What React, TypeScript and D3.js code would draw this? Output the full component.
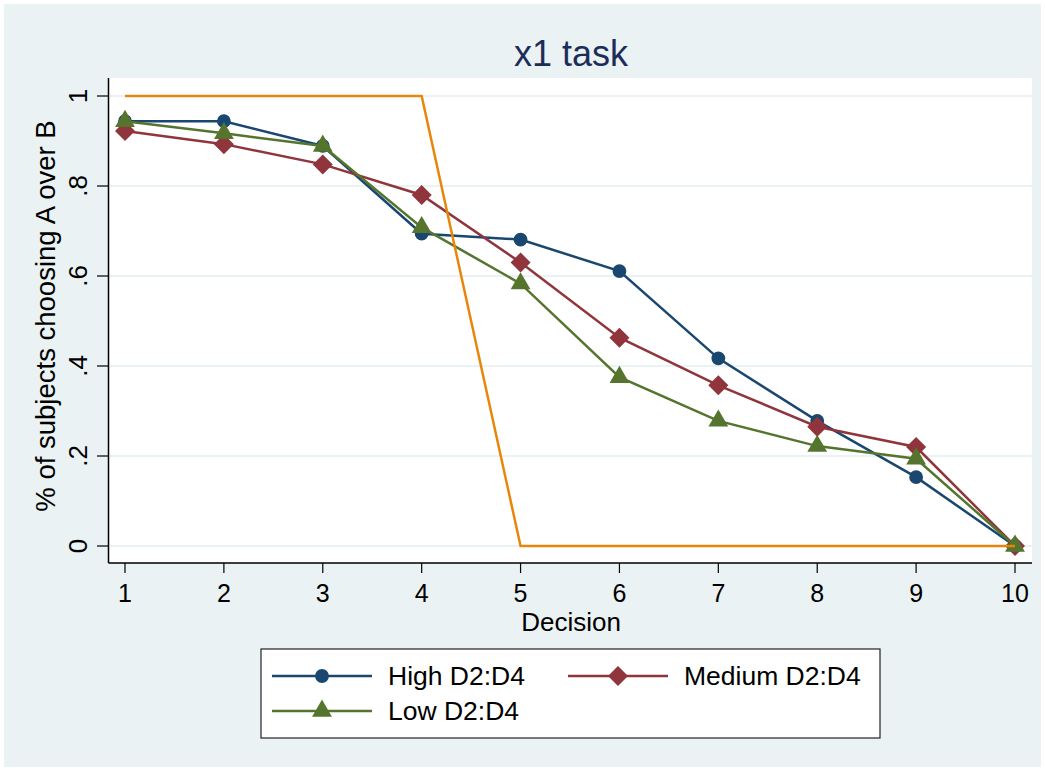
import React, { useEffect, useRef } from 'react';
import * as d3 from 'd3';

const decisions = [1, 2, 3, 4, 5, 6, 7, 8, 9, 10];
const highD2D4 = [0.944, 0.944, 0.889, 0.694, 0.681, 0.611, 0.417, 0.278, 0.153, 0];
const mediumD2D4 = [0.922, 0.893, 0.848, 0.78, 0.63, 0.463, 0.357, 0.265, 0.22, 0];
const lowD2D4 = [0.944, 0.917, 0.889, 0.708, 0.583, 0.375, 0.278, 0.222, 0.194, 0];
const riskNeutral = [1, 1, 1, 1, 0, 0, 0, 0, 0, 0];
const yTicks = [0, 0.2, 0.4, 0.6, 0.8, 1];

const FONT = "'Liberation Sans', Arial, Helvetica, sans-serif";

const App = () => {
  const ref = useRef<SVGSVGElement>(null);

  useEffect(() => {
    const svg = d3.select(ref.current);
    svg.selectAll("*").remove();

    const width = 1045;
    const height = 771;
    const plot = { left: 108.5, top: 78, right: 1032, bottom: 563 };

    svg.attr("width", width).attr("height", height);

    // backgrounds
    svg.append("rect").attr("width", width).attr("height", height).attr("fill", "#ffffff");
    svg.append("rect")
      .attr("x", 4).attr("y", 4)
      .attr("width", width - 8).attr("height", height - 8)
      .attr("fill", "#eaf2f3");
    svg.append("rect")
      .attr("x", plot.left).attr("y", plot.top)
      .attr("width", plot.right - plot.left).attr("height", plot.bottom - plot.top)
      .attr("fill", "#ffffff");

    const x = d3.scaleLinear().domain([1, 10]).range([125, 1015]);
    const y = d3.scaleLinear().domain([0, 1]).range([546, 96]);

    // gridlines
    svg.append("g")
      .selectAll("line")
      .data(yTicks)
      .join("line")
      .attr("x1", plot.left).attr("x2", plot.right)
      .attr("y1", d => y(d)).attr("y2", d => y(d))
      .attr("stroke", "#eaf2f3")
      .attr("stroke-width", 2);

    const fmt = (d: number) => (d === 0 || d === 1 ? String(d) : String(d).replace(/^0/, ""));

    // y axis
    const yAxis = svg.append("g");
    yAxis.append("line")
      .attr("x1", plot.left).attr("x2", plot.left)
      .attr("y1", plot.top).attr("y2", plot.bottom)
      .attr("stroke", "#000").attr("stroke-width", 1.5);
    yAxis.selectAll("line.tick")
      .data(yTicks)
      .join("line")
      .attr("class", "tick")
      .attr("x1", 97).attr("x2", plot.left)
      .attr("y1", d => y(d)).attr("y2", d => y(d))
      .attr("stroke", "#000").attr("stroke-width", 1.2);
    yAxis.selectAll("text")
      .data(yTicks)
      .join("text")
      .attr("transform", d => `translate(87,${y(d)}) rotate(-90)`)
      .attr("text-anchor", "middle")
      .style("font-family", FONT)
      .style("font-size", "26px")
      .attr("fill", "#000")
      .text(d => fmt(d));

    // x axis
    const xAxis = svg.append("g");
    xAxis.append("line")
      .attr("x1", plot.left).attr("x2", plot.right)
      .attr("y1", plot.bottom).attr("y2", plot.bottom)
      .attr("stroke", "#000").attr("stroke-width", 1.5);
    xAxis.selectAll("line.tick")
      .data(decisions)
      .join("line")
      .attr("class", "tick")
      .attr("x1", d => x(d)).attr("x2", d => x(d))
      .attr("y1", plot.bottom).attr("y2", 573)
      .attr("stroke", "#000").attr("stroke-width", 1.2);
    xAxis.selectAll("text")
      .data(decisions)
      .join("text")
      .attr("x", d => x(d)).attr("y", 602)
      .attr("text-anchor", "middle")
      .style("font-family", FONT)
      .style("font-size", "25px")
      .attr("fill", "#000")
      .text(d => String(d));

    // titles
    svg.append("text")
      .attr("x", 571).attr("y", 66)
      .attr("text-anchor", "middle")
      .style("font-family", FONT)
      .style("font-size", "36px")
      .attr("fill", "#1c2d5a")
      .text("x1 task");
    svg.append("text")
      .attr("x", 571).attr("y", 631)
      .attr("text-anchor", "middle")
      .style("font-family", FONT)
      .style("font-size", "26px")
      .attr("fill", "#000")
      .text("Decision");
    svg.append("text")
      .attr("transform", `translate(55,316) rotate(-90)`)
      .attr("text-anchor", "middle")
      .style("font-family", FONT)
      .style("font-size", "27.5px")
      .attr("fill", "#000")
      .text("% of subjects choosing A over B");

    const circle = d3.symbol().type(d3.symbolCircle).size(150);
    const diamond = d3.symbol().type(d3.symbolSquare).size(200);
    const triangle = d3.symbol().type(d3.symbolTriangle).size(170);

    const series = [
      { name: "High D2:D4", values: highD2D4, color: "#1a476f", sym: circle, rot: 0 },
      { name: "Medium D2:D4", values: mediumD2D4, color: "#90353b", sym: diamond, rot: 45 },
      { name: "Low D2:D4", values: lowD2D4, color: "#55752f", sym: triangle, rot: 0 },
    ];

    const line = d3.line<number>()
      .x((_, i) => x(decisions[i]))
      .y(d => y(d));

    series.forEach(s => {
      svg.append("path")
        .datum(s.values)
        .attr("d", line)
        .attr("fill", "none")
        .attr("stroke", s.color)
        .attr("stroke-width", 2.5);
      svg.append("g")
        .selectAll("path")
        .data(s.values)
        .join("path")
        .attr("d", s.sym())
        .attr("transform", (d, i) => `translate(${x(decisions[i])},${y(d)}) rotate(${s.rot})`)
        .attr("fill", s.color);
    });

    svg.append("path")
      .datum(riskNeutral)
      .attr("d", line)
      .attr("fill", "none")
      .attr("stroke", "#e8860c")
      .attr("stroke-width", 2.5);

    // legend
    const lg = svg.append("g");
    lg.append("rect")
      .attr("x", 261).attr("y", 649)
      .attr("width", 619).attr("height", 89)
      .attr("fill", "#ffffff")
      .attr("stroke", "#222").attr("stroke-width", 1.2);
    const slots = [
      { lx: 272, ly: 676 },
      { lx: 568, ly: 676 },
      { lx: 272, ly: 711 },
    ];
    series.forEach((s, i) => {
      const { lx, ly } = slots[i];
      lg.append("line")
        .attr("x1", lx).attr("x2", lx + 100)
        .attr("y1", ly).attr("y2", ly)
        .attr("stroke", s.color).attr("stroke-width", 2.5);
      lg.append("path")
        .attr("d", s.sym())
        .attr("transform", `translate(${lx + 50},${ly}) rotate(${s.rot})`)
        .attr("fill", s.color);
      lg.append("text")
        .attr("x", lx + 116).attr("y", ly + 9)
        .style("font-family", FONT)
        .style("font-size", "26.5px")
        .attr("fill", "#000")
        .text(s.name);
    });
  }, []);

  return <svg ref={ref} style={{ position: "absolute", left: 0, top: 0, display: "block" }}></svg>;
};

export default App;
